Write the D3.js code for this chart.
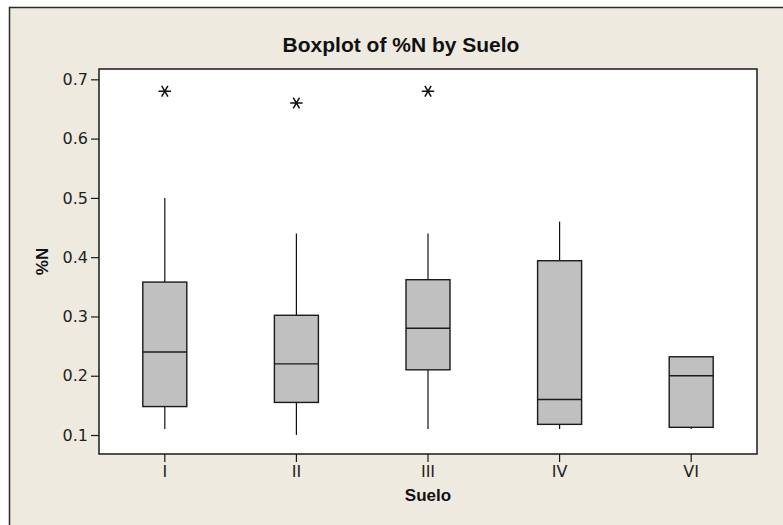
<!DOCTYPE html>
<html>
<head>
<meta charset="utf-8">
<script src="https://cdn.jsdelivr.net/npm/d3@7"></script>
<style>
  html, body { margin: 0; padding: 0; background: #fff; }
  svg { display: block; }
</style>
</head>
<body>
<div id="chart"></div>
<script>
// Boxplot of %N by Suelo
const categories = ['I', 'II', 'III', 'IV', 'VI'];
const whiskerLow = [0.11, 0.10, 0.11, 0.11, 0.11];
const q1 = [0.148, 0.155, 0.21, 0.118, 0.113];
const median = [0.24, 0.22, 0.28, 0.16, 0.20];
const q3 = [0.358, 0.302, 0.362, 0.394, 0.232];
const whiskerHigh = [0.50, 0.44, 0.44, 0.46, 0.232];
const outliers = [[0.68], [0.66], [0.68], [], []];
const yTicks = [0.1, 0.2, 0.3, 0.4, 0.5, 0.6, 0.7];

const width = 783;
const height = 525;
const margin = { top: 69, right: 26, bottom: 71, left: 99 };
const innerW = width - margin.left - margin.right;
const innerH = height - margin.top - margin.bottom;
const font = '"Liberation Sans", Arial, sans-serif';
const tickFont = '"DejaVu Sans", Verdana, sans-serif';

const data = categories.map((c, i) => ({
  cat: c,
  lo: whiskerLow[i],
  q1: q1[i],
  med: median[i],
  q3: q3[i],
  hi: whiskerHigh[i],
  out: outliers[i],
}));

const svg = d3.select('#chart').append('svg')
  .attr('width', width)
  .attr('height', height);

// beige graph frame (cropped on right and bottom)
svg.append('rect')
  .attr('x', 9.5)
  .attr('y', 7.5)
  .attr('width', width + 20)
  .attr('height', height + 20)
  .attr('fill', '#eeeae0')
  .attr('stroke', '#2a2a2a')
  .attr('stroke-width', 1.5);

const xScale = d3.scaleBand()
  .domain(categories)
  .range([0, innerW])
  .padding(0);

const yScale = d3.scaleLinear()
  .domain([0.068, 0.7174])
  .range([innerH, 0]);

const el = svg.append('g')
  .attr('transform', `translate(${margin.left}, ${margin.top})`);

el.append('rect')
  .attr('width', innerW)
  .attr('height', innerH)
  .attr('fill', '#fff')
  .attr('stroke', '#1a1a1a')
  .attr('stroke-width', 1.5);

const yAxis = d3.axisLeft(yScale)
  .tickValues(yTicks)
  .tickFormat(d3.format('.1f'))
  .tickSize(8)
  .tickPadding(3);

const xAxis = d3.axisBottom(xScale)
  .tickSize(8)
  .tickPadding(4);

const gy = el.append('g').call(yAxis);
const gx = el.append('g')
  .attr('transform', `translate(0, ${innerH})`)
  .call(xAxis);

[gx, gy].forEach((g) => {
  g.select('.domain').remove();
  g.selectAll('line').attr('stroke', '#1a1a1a').attr('stroke-width', 1.2);
  g.selectAll('text')
    .attr('fill', '#222')
    .attr('font-family', tickFont)
    .attr('font-size', '16px');
});

const boxW = 44;
const boxes = el.selectAll('.box')
  .data(data)
  .enter()
  .append('g')
  .attr('class', 'box')
  .attr('transform', (d) => `translate(${xScale(d.cat) + xScale.bandwidth() / 2}, 0)`);

// whiskers
boxes.append('line')
  .attr('x1', 0).attr('x2', 0)
  .attr('y1', (d) => yScale(d.q3))
  .attr('y2', (d) => yScale(d.hi))
  .attr('stroke', '#111')
  .attr('stroke-width', 1.2);

boxes.append('line')
  .attr('x1', 0).attr('x2', 0)
  .attr('y1', (d) => yScale(d.q1))
  .attr('y2', (d) => yScale(d.lo))
  .attr('stroke', '#111')
  .attr('stroke-width', 1.2);

boxes.append('rect')
  .attr('x', -boxW / 2)
  .attr('width', boxW)
  .attr('y', (d) => yScale(d.q3))
  .attr('height', (d) => yScale(d.q1) - yScale(d.q3))
  .attr('fill', '#c0c0c0')
  .attr('stroke', '#1a1a1a')
  .attr('stroke-width', 1.4);

boxes.append('line')
  .attr('x1', -boxW / 2).attr('x2', boxW / 2)
  .attr('y1', (d) => yScale(d.med))
  .attr('y2', (d) => yScale(d.med))
  .attr('stroke', '#1a1a1a')
  .attr('stroke-width', 1.4);

// outliers drawn as asterisks
const star = d3.symbol().type(d3.symbolAsterisk).size(110);
boxes.selectAll('.outlier')
  .data((d) => d.out)
  .enter()
  .append('path')
  .attr('class', 'outlier')
  .attr('d', star)
  .attr('transform', (v) => `translate(0, ${yScale(v)}) rotate(90)`)
  .attr('fill', 'none')
  .attr('stroke', '#111')
  .attr('stroke-width', 1.5);

// title and axis labels
svg.append('text')
  .attr('x', 401)
  .attr('y', 52)
  .attr('text-anchor', 'middle')
  .attr('font-family', font)
  .attr('font-weight', 'bold')
  .attr('font-size', '21px')
  .attr('fill', '#111')
  .text('Boxplot of %N by Suelo');

svg.append('text')
  .attr('x', margin.left + innerW / 2)
  .attr('y', 501)
  .attr('text-anchor', 'middle')
  .attr('font-family', font)
  .attr('font-weight', 'bold')
  .attr('font-size', '17px')
  .attr('fill', '#111')
  .text('Suelo');

svg.append('text')
  .attr('transform', `translate(48, ${margin.top + innerH / 2}) rotate(-90)`)
  .attr('text-anchor', 'middle')
  .attr('font-family', font)
  .attr('font-weight', 'bold')
  .attr('font-size', '17px')
  .attr('fill', '#111')
  .text('%N');
</script>
</body>
</html>
